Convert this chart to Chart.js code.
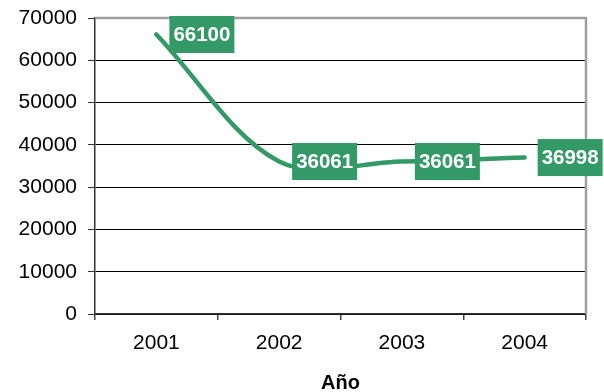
<!DOCTYPE html>
<html>
<head>
<meta charset="utf-8">
<script src="https://cdn.jsdelivr.net/npm/chart.js@4/dist/chart.umd.min.js"></script>
<style>
  html, body { margin: 0; padding: 0; background: #fff; }
  #wrap { width: 604px; height: 392px; }
</style>
</head>
<body>
<div id="wrap"><canvas id="c" width="604" height="392"></canvas></div>
<script>
const years = ['2001', '2002', '2003', '2004'];
const values = [66100, 36061, 36061, 36998];
const valueLabels = ['66100', '36061', '36061', '36998'];
const yTicks = [0, 10000, 20000, 30000, 40000, 50000, 60000, 70000];
const xTitle = 'Año';

const GREEN = '#339966';
const FONT = "'Liberation Sans', Arial, sans-serif";

const borderPlugin = {
  id: 'plotBorder',
  beforeDatasetsDraw(chart) {
    const { ctx, chartArea: a } = chart;
    ctx.save();
    ctx.strokeStyle = '#a0a0a0';
    ctx.lineWidth = 2.5;
    ctx.beginPath();
    ctx.moveTo(a.left, a.top);
    ctx.lineTo(a.right, a.top);
    ctx.lineTo(a.right, a.bottom);
    ctx.stroke();
    ctx.restore();
  }
};

const labelPlugin = {
  id: 'boxLabels',
  afterDatasetsDraw(chart) {
    const { ctx } = chart;
    const meta = chart.getDatasetMeta(0);
    ctx.save();
    ctx.font = 'bold 20.5px ' + FONT;
    meta.data.forEach((pt, i) => {
      const txt = valueLabels[i];
      const w = ctx.measureText(txt).width + 8;
      const h = 37;
      const x0 = pt.x + 13;
      const y0 = pt.y - h / 2;
      ctx.fillStyle = GREEN;
      ctx.fillRect(x0, y0, w, h);
      ctx.fillStyle = '#ffffff';
      ctx.textAlign = 'center';
      ctx.textBaseline = 'middle';
      ctx.fillText(txt, x0 + w / 2, pt.y + 1);
    });
    ctx.restore();
  }
};

new Chart(document.getElementById('c'), {
  type: 'line',
  data: {
    labels: years,
    datasets: [{
      data: values,
      borderColor: GREEN,
      borderWidth: 4.5,
      borderCapStyle: 'round',
      tension: 0.33,
      pointRadius: 0,
      fill: false
    }]
  },
  options: {
    responsive: false,
    animation: false,
    devicePixelRatio: 1,
    layout: { padding: { top: 18, right: 18, left: 0, bottom: 0 } },
    plugins: { legend: { display: false }, tooltip: { enabled: false } },
    scales: {
      x: {
        offset: true,
        grid: {
          offset: true,
          drawOnChartArea: false,
          drawTicks: true,
          tickLength: 6,
          color: '#444',
          lineWidth: 1.5
        },
        border: { display: true, color: '#333', width: 1.5 },
        ticks: {
          color: '#000',
          font: { family: FONT, size: 21 },
          padding: 11,
          maxRotation: 0
        },
        title: {
          display: true,
          text: xTitle,
          color: '#000',
          font: { family: FONT, size: 20, weight: 'bold' },
          padding: { top: 0, bottom: -3 }
        },
        afterFit(s) { s.height = 78; s.paddingLeft = 0; s.paddingRight = 0; }
      },
      y: {
        min: 0,
        max: 70000,
        afterBuildTicks(s) { s.ticks = yTicks.map(v => ({ value: v })); },
        grid: {
          color: (c) => (c.tick && c.tick.value === 70000 ? 'rgba(0,0,0,0)' : '#000'),
          lineWidth: 1,
          drawTicks: true,
          tickLength: 7,
          tickColor: '#333'
        },
        border: { display: true, color: '#333', width: 1.5 },
        ticks: {
          color: '#000',
          font: { family: FONT, size: 21 },
          padding: 11,
          callback: (v) => String(v)
        },
        afterFit(s) { s.width = 95; s.paddingTop = 0; s.paddingBottom = 0; }
      }
    }
  },
  plugins: [borderPlugin, labelPlugin]
});
</script>
</body>
</html>
